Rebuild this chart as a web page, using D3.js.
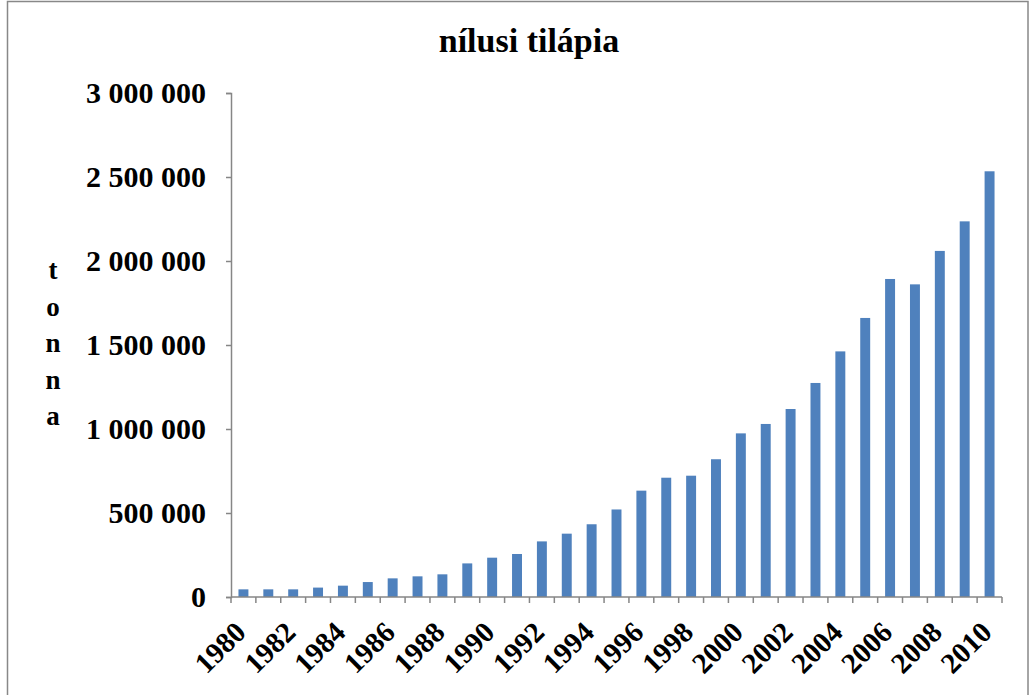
<!DOCTYPE html>
<html><head><meta charset="utf-8">
<script src="https://cdn.jsdelivr.net/npm/d3@7"></script>
<style>body{margin:0;background:#fff}svg{display:block}text{font-family:"Liberation Serif","Times New Roman",serif;font-weight:bold;fill:#000}</style>
</head><body><svg id="c" width="1031" height="695"></svg>
<script>
const years = d3.range(1980, 2011).map(String);
const values = [45600, 45600, 45600, 56000, 67500, 89000, 111000, 123000, 135000, 200000,
  234000, 256000, 331000, 377000, 433000, 521000, 633000, 710000, 722000, 820000,
  974000, 1030000, 1119000, 1274000, 1462000, 1661000, 1893000, 1861000, 2060000, 2236000, 2534000];
const yTicks = [0, 500000, 1000000, 1500000, 2000000, 2500000, 3000000];
const xLabels = years.filter((d, i) => i % 2 === 0);
const title = "nílusi tilápia";
const yTitle = ["t", "o", "n", "n", "a"];

const svg = d3.select("#c");
svg.append("rect").attr("x", 7.5).attr("y", 1.5).attr("width", 1020.5).attr("height", 710)
  .attr("fill", "#fff").attr("stroke", "#888").attr("stroke-width", 1.5);

const L = 231, R = 1002, T = 93, B = 597;
const x = d3.scaleBand().domain(years).range([L, R]).paddingInner(0.6).paddingOuter(0.3);
const xb = d3.scaleBand().domain(years).range([L, R]);
const y = d3.scaleLinear().domain([0, 3000000]).range([B, T]);

svg.append("text").attr("x", 529).attr("y", 52).attr("text-anchor", "middle")
  .style("font-size", "34px").text(title);

svg.selectAll("rect.bar").data(values).join("rect").attr("class", "bar")
  .attr("x", (d, i) => x(years[i])).attr("width", x.bandwidth())
  .attr("y", d => y(d)).attr("height", d => B - y(d)).attr("fill", "#4F81BD");

const fmt = v => d3.format(",")(v).replace(/,/g, "\u00a0");
const ya = svg.append("g").attr("transform", `translate(${L},0)`)
  .call(d3.axisLeft(y).tickValues(yTicks).tickFormat(fmt).tickSize(5).tickPadding(20));
ya.select(".domain").attr("stroke", "#868686").attr("stroke-width", 1.5);
ya.selectAll(".tick line").attr("stroke", "#868686").attr("stroke-width", 1.5);
ya.selectAll(".tick text").style("font-size", "30px").style("font-family", "Liberation Serif").attr("fill", "#000");

// x axis with ticks at band boundaries
const xa = svg.append("g");
xa.append("line").attr("x1", L).attr("x2", R).attr("y1", B).attr("y2", B)
  .attr("stroke", "#868686").attr("stroke-width", 1.5);
const bounds = years.map(d => xb(d)).concat([R]);
xa.selectAll("line.t").data(bounds).join("line").attr("class", "t")
  .attr("x1", d => d).attr("x2", d => d).attr("y1", B).attr("y2", B + 6)
  .attr("stroke", "#868686").attr("stroke-width", 1.5);
xa.selectAll("text").data(xLabels).join("text")
  .attr("transform", d => `translate(${xb(d) + xb.bandwidth() / 2 + 4},${B + 37}) rotate(-45)`)
  .attr("text-anchor", "end").style("font-size", "29px").text(d => d);

svg.selectAll("text.yt").data(yTitle).join("text").attr("class", "yt")
  .attr("x", 53).attr("y", (d, i) => 279 + i * 36.5).attr("text-anchor", "middle")
  .style("font-size", "27px").text(d => d);
</script></body></html>
